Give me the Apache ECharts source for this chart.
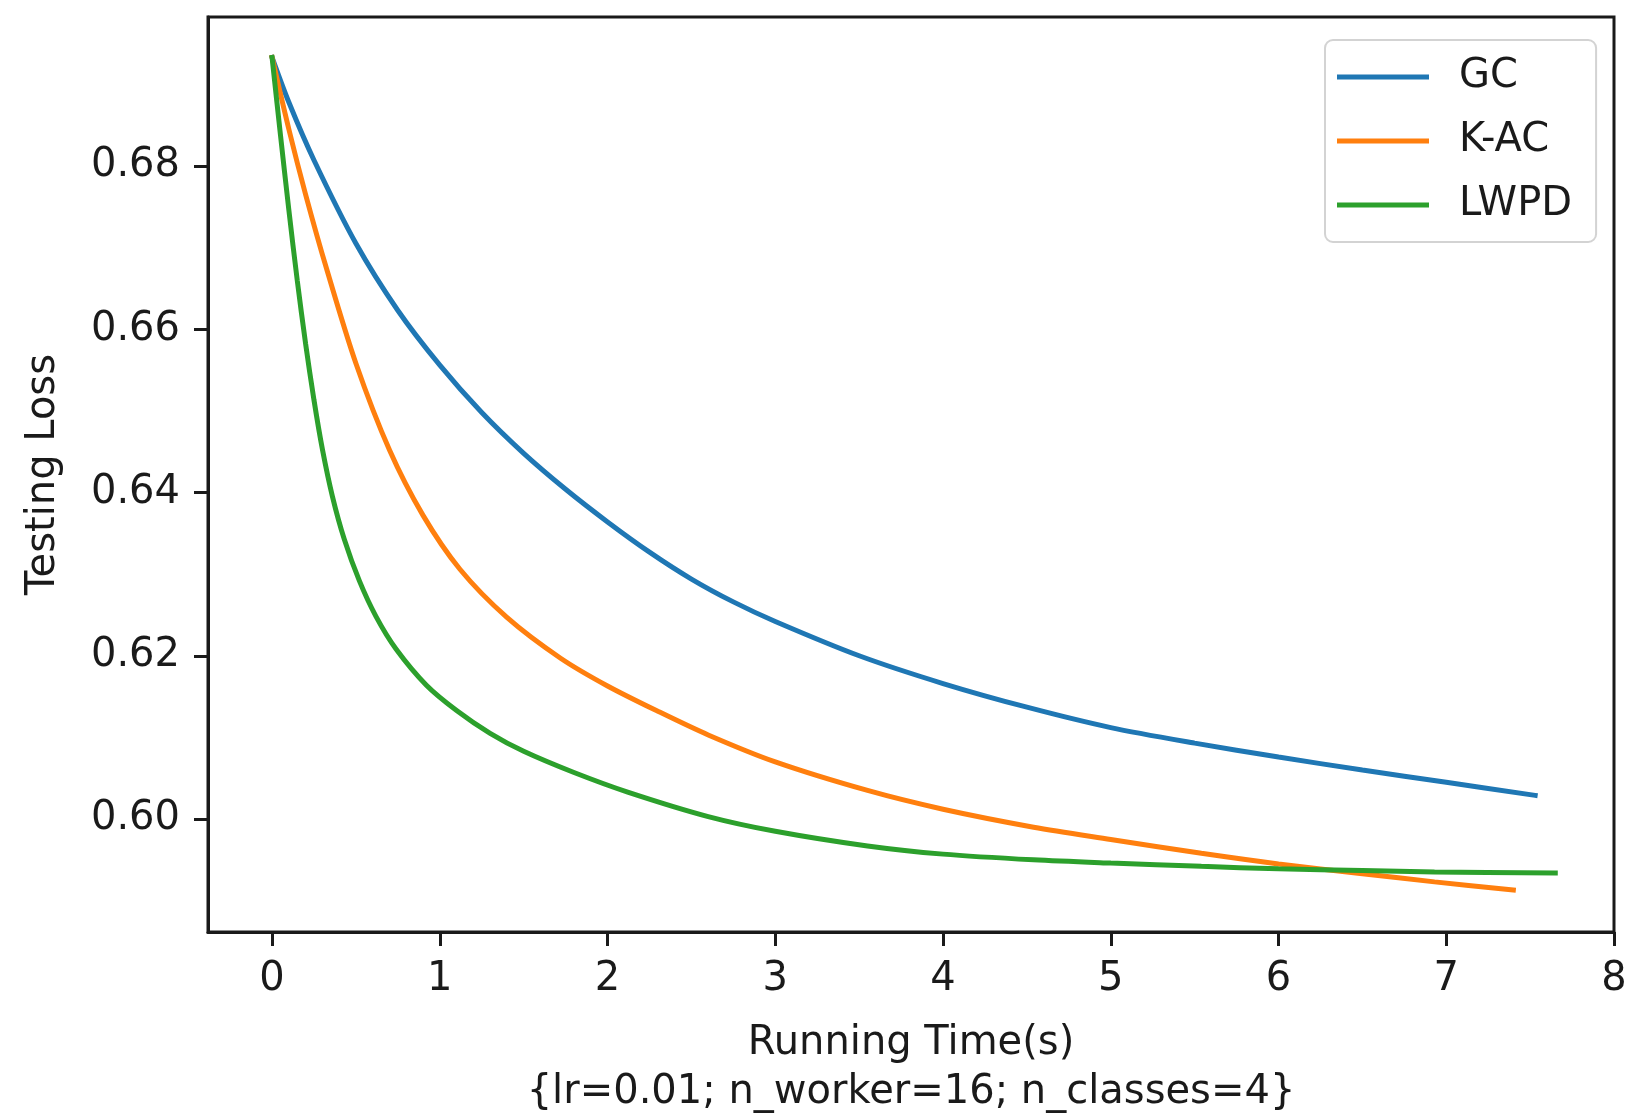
<!DOCTYPE html>
<html>
<head>
<meta charset="utf-8">
<script src="https://cdn.jsdelivr.net/npm/echarts@6/dist/echarts.min.js"></script>
<style>
  html, body { margin: 0; padding: 0; background: #fff; }
  #lossChart { width: 1628px; height: 1115px; }
</style>
</head>
<body>
<div id="lossChart"></div>
<script>
// valores
var xTicks = [0, 1, 2, 3, 4, 5, 6, 7, 8];
var yTicks = [0.60, 0.62, 0.64, 0.66, 0.68];

var gcTime = [0, 0.1, 0.25, 0.5, 0.75, 1.0, 1.25, 1.5, 1.75, 2.0, 2.25, 2.5, 2.75, 3.0, 3.5, 4.0, 4.5, 5.0, 5.5, 6.0, 6.5, 7.0, 7.53];
var gcLoss = [0.6933, 0.6878, 0.6807, 0.6705, 0.6623, 0.6556, 0.6498, 0.6448, 0.6404, 0.6364, 0.6327, 0.6294, 0.6266, 0.6242, 0.6200, 0.6166, 0.6137, 0.6112, 0.6093, 0.6076, 0.6060, 0.6045, 0.6029];

var kacTime = [0, 0.1, 0.2, 0.325, 0.5, 0.7, 0.9, 1.12, 1.4, 1.72, 2.0, 2.3, 2.6, 3.0, 3.55, 4.0, 4.54, 5.0, 5.54, 6.0, 6.5, 6.93, 7.4];
var kacLoss = [0.6933, 0.6845, 0.6765, 0.6674, 0.6558, 0.6452, 0.6372, 0.6306, 0.6247, 0.6197, 0.6163, 0.6132, 0.6103, 0.6070, 0.6035, 0.6012, 0.5990, 0.5975, 0.5958, 0.5945, 0.5933, 0.5923, 0.5913];

var lwpdTime = [0, 0.05, 0.1, 0.15, 0.2, 0.25, 0.3, 0.36, 0.43, 0.52, 0.62, 0.74, 0.92, 1.1, 1.3, 1.5, 1.8, 2.12, 2.6, 3.0, 3.55, 4.0, 4.54, 5.0, 5.54, 6.0, 6.5, 6.93, 7.65];
var lwpdLoss = [0.6933, 0.6838, 0.6746, 0.6660, 0.6582, 0.6513, 0.6453, 0.6395, 0.6343, 0.6292, 0.6248, 0.6208, 0.6164, 0.6133, 0.6105, 0.6083, 0.6057, 0.6033, 0.6003, 0.5985, 0.5967, 0.5957, 0.5950, 0.5946, 0.5942, 0.5939, 0.5937, 0.5935, 0.5934];

var colores = ['#1f77b4', '#ff7f0e', '#2ca02c'];
var fuente = 'DejaVu Sans';
var negro = '#1a1a1a';

function pares(xs, ys) {
    return xs.map(function (x, i) { return [x, ys[i]]; });
}

function serie(nombre, xs, ys, color) {
    return {
        name: nombre,
        type: 'line',
        data: pares(xs, ys),
        showSymbol: false,
        symbol: 'none',
        smooth: 0.3,
        color: color,
        lineStyle: { color: color, width: 5, cap: 'square' },
        emphasis: { disabled: true }
    };
}

var lossChart = echarts.init(document.getElementById('lossChart'));
var iconoLinea = 'path://M0,0 L92,0 L92,5 L0,5 Z';

var optionLoss = {
    animation: false,
    backgroundColor: '#fff',
    grid: {
        left: 208, top: 17, width: 1406, height: 915,
        show: true, borderColor: negro, borderWidth: 3,
        containLabel: false,
        outerBoundsMode: 'none'
    },
    legend: {
        orient: 'vertical',
        left: 1325, top: 40,
        padding: [17, 24, 17, 12],
        itemGap: 24,
        itemWidth: 92,
        itemHeight: 5,
        backgroundColor: '#fff',
        borderColor: '#d3d3d3',
        borderWidth: 2,
        borderRadius: 8,
        textStyle: {
            fontFamily: fuente, fontSize: 40, color: negro,
            lineHeight: 40, padding: [0, 0, 0, 25]
        },
        data: [
            { name: 'GC', icon: iconoLinea },
            { name: 'K-AC', icon: iconoLinea },
            { name: 'LWPD', icon: iconoLinea }
        ]
    },
    xAxis: {
        type: 'value',
        min: -0.382,
        max: 8.0,
        name: 'Running Time(s)\n{lr=0.01; n_worker=16; n_classes=4}',
        nameLocation: 'middle',
        nameGap: 87,
        nameTextStyle: { fontFamily: fuente, fontSize: 40, color: negro, lineHeight: 49 },
        axisLine: { show: true, onZero: false, lineStyle: { color: negro, width: 3 } },
        axisTick: { show: true, customValues: xTicks, length: 14, lineStyle: { color: negro, width: 3 } },
        axisLabel: {
            customValues: xTicks, margin: 28,
            fontFamily: fuente, fontSize: 40, color: negro
        },
        splitLine: { show: false }
    },
    yAxis: {
        type: 'value',
        min: 0.58616,
        max: 0.69825,
        name: 'Testing Loss',
        nameLocation: 'middle',
        nameGap: 144,
        nameTextStyle: { fontFamily: fuente, fontSize: 40, color: negro },
        axisLine: { show: true, onZero: false, lineStyle: { color: negro, width: 3 } },
        axisTick: { show: true, customValues: yTicks, length: 14, lineStyle: { color: negro, width: 3 } },
        axisLabel: {
            customValues: yTicks, margin: 28,
            fontFamily: fuente, fontSize: 40, color: negro,
            formatter: function (v) { return v.toFixed(2); }
        },
        splitLine: { show: false }
    },
    series: [
        serie('GC', gcTime, gcLoss, colores[0]),
        serie('K-AC', kacTime, kacLoss, colores[1]),
        serie('LWPD', lwpdTime, lwpdLoss, colores[2])
    ]
};

lossChart.setOption(optionLoss);
</script>
</body>
</html>
